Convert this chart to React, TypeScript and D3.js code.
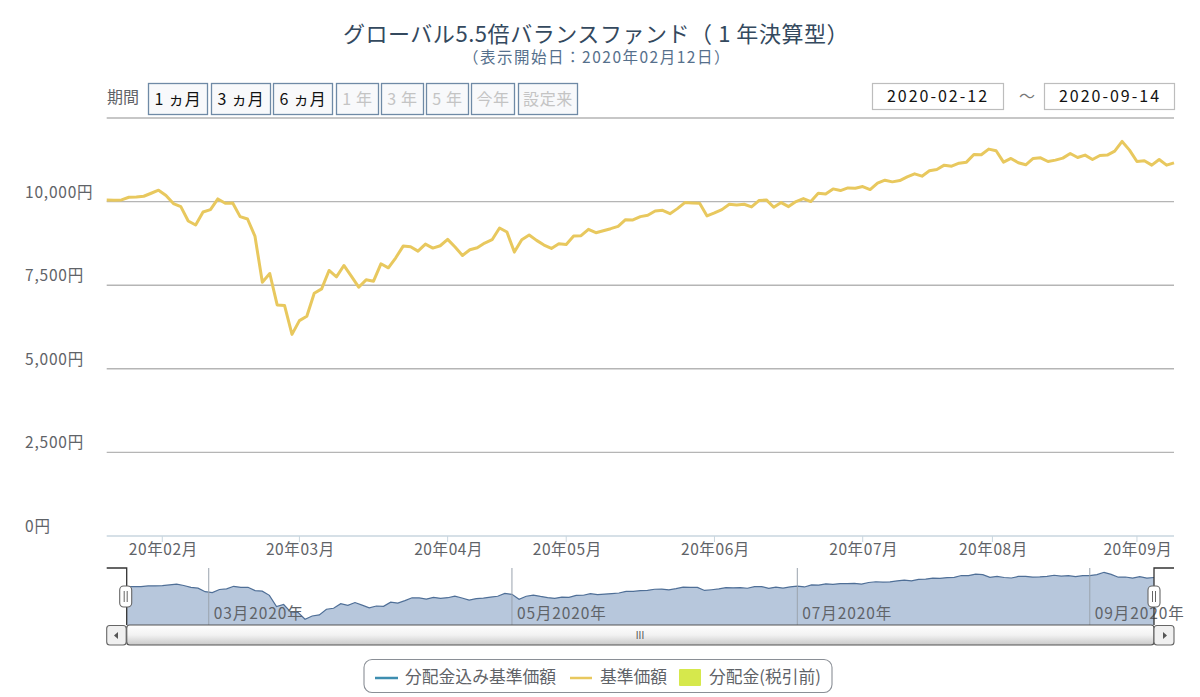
import React from "react";
import * as d3 from "d3";

const FONT = '"Noto Sans CJK JP", "Noto Sans", sans-serif';

const navValues: number[] = [
  10050, 10040, 10050, 10130, 10140, 10160, 10250, 10340, 10180, 9940, 9850, 9420, 9300, 9690, 9760, 10080, 9950, 9960,
  9550, 9480, 8970, 7590, 7850, 6910, 6890, 6030, 6440, 6570, 7260, 7390, 7940, 7750, 8090, 7770, 7440, 7660,
  7620, 8140, 8020, 8320, 8670, 8650, 8520, 8730, 8610, 8680, 8870, 8640, 8390, 8560, 8620, 8760, 8860, 9210, 9090, 8490,
  8860, 9000, 8840, 8700, 8600, 8740, 8720, 8970, 8980, 9170, 9070, 9130, 9190, 9260, 9460, 9450, 9550, 9590, 9720, 9740,
  9640, 9790, 9970, 9960, 9950, 9570, 9660, 9760, 9920, 9900, 9920, 9840, 10030, 10050, 9830, 9970, 9850, 10000, 10090,
  10000, 10250, 10230, 10380, 10330, 10410, 10400, 10450, 10360, 10550, 10640, 10590, 10630, 10740, 10830, 10760, 10920,
  10960, 11090, 11060, 11150, 11180, 11410, 11400, 11570, 11520, 11180, 11290, 11160, 11100, 11290, 11310, 11200, 11240,
  11300, 11440, 11320, 11390, 11260, 11380, 11390, 11510, 11800, 11540, 11200, 11220, 11090, 11260, 11090, 11160,
];
const yTicks: number[] = [0, 2500, 5000, 7500, 10000, 12500];
const yTickLabels: string[] = ["0円", "2,500円", "5,000円", "7,500円", "10,000円"];
const xTickIndex: number[] = [7.5, 26, 46, 62, 82, 102, 119.5, 139];
const xTickLabels: string[] = ["20年02月", "20年03月", "20年04月", "20年05月", "20年06月", "20年07月", "20年08月", "20年09月"];
const navTickIndex: number[] = [11.5, 54, 94, 135];
const navTickLabels: string[] = ["03月2020年", "05月2020年", "07月2020年", "09月2020年"];
const periodButtons: string[] = ["1 ヵ月", "3 ヵ月", "6 ヵ月", "1 年", "3 年", "5 年", "今年", "設定来"];
const periodEnabled: boolean[] = [true, true, true, false, false, false, false, false];
const periodEdges: number[][] = [[148, 208], [211, 271], [273, 333], [336, 379], [381, 424], [426, 469], [471, 515], [518, 578]];

const L = 106.7, R = 1174, TOP = 118, BOT = 536;
const NL = 126.7, NR = 1154, NT = 568, NB = 625;

export default function App() {
  const idx = navValues.map((_, i) => i);
  const x = d3.scaleLinear().domain([0, navValues.length - 1]).range([L, R]);
  const y = d3.scaleLinear().domain([0, 12500]).range([BOT, TOP]);
  const nx = d3.scaleLinear().domain([0, navValues.length - 1]).range([NL, NR]);
  const ny = d3.scaleLinear().domain([5330, 11800]).range([NB, 572.3]);
  const line = d3.line<number>().x((i) => x(i)).y((i) => y(navValues[i]));
  const navLine = d3.line<number>().x((i) => nx(i)).y((i) => ny(navValues[i]));
  const navArea = d3.area<number>().x((i) => nx(i)).y0(NB).y1((i) => ny(navValues[i]));
  const gray = "#5f6368";

  return (
    <svg width={1200} height={697} style={{ position: "absolute", left: 0, top: 0, background: "#fff" }} fontFamily={FONT}>
      <defs>
        <linearGradient id="thumb" x1="0" y1="0" x2="0" y2="1">
          <stop offset="0" stopColor="#ffffff" />
          <stop offset="0.5" stopColor="#f2f2f2" />
          <stop offset="1" stopColor="#c9c9c9" />
        </linearGradient>
      </defs>

      <text x={596} y={42} textAnchor="middle" fontSize={22} letterSpacing={0.55} fill="#34495e" xmlSpace="preserve">グローバル5.5倍バランスファンド（ 1 年決算型）</text>
      <text x={597} y={63} textAnchor="middle" fontSize={15.5} letterSpacing={1.5} fill="#56708c">（表示開始日：2020年02月12日）</text>

      <text x={107} y={103} fontSize={16} fill={gray}>期間</text>
      {periodButtons.map((b, i) => {
        const [a, e] = periodEdges[i];
        return (
          <g key={b}>
            <rect x={a + 0.5} y={83.5} width={e - a - 1} height={31} fill="#f8f9fb" stroke="#6f8aa6" strokeWidth={1.3} />
            <text x={(a + e) / 2} y={105} textAnchor="middle" fontSize={16} letterSpacing={0.6} fill={periodEnabled[i] ? "#111" : "#c4c4c4"} xmlSpace="preserve">{b}</text>
          </g>
        );
      })}

      <rect x={872.5} y={83.5} width={131} height={26} fill="#fff" stroke="#bdbdbd" strokeWidth={1.2} />
      <text x={938} y={102} textAnchor="middle" fontSize={16} letterSpacing={2} fill="#111">2020-02-12</text>
      <text x={1027} y={102} textAnchor="middle" fontSize={16} fill="#777">～</text>
      <rect x={1044.5} y={83.5} width={130} height={26} fill="#fff" stroke="#bdbdbd" strokeWidth={1.2} />
      <text x={1110} y={102} textAnchor="middle" fontSize={16} letterSpacing={2} fill="#111">2020-09-14</text>

      {yTicks.slice(1).map((t) => (
        <line key={t} x1={L} x2={R} y1={y(t)} y2={y(t)} stroke="#b5b5b5" strokeWidth={1.4} />
      ))}
      <line x1={L} x2={R} y1={BOT} y2={BOT} stroke="#c9d6df" strokeWidth={1.4} />
      {yTickLabels.map((t, i) => (
        <text key={t} x={25} y={y(yTicks[i]) - 4} fontSize={15.5} letterSpacing={0.8} fill={gray}>{t}</text>
      ))}
      {xTickIndex.map((t, i) => (
        <g key={t}>
          <line x1={x(t)} x2={x(t)} y1={BOT} y2={BOT + 6} stroke="#c9d6df" />
          <text x={x(t) + 1} y={555} textAnchor="middle" fontSize={15.5} letterSpacing={0.6} fill={gray}>{xTickLabels[i]}</text>
        </g>
      ))}

      <path d={line(idx) ?? ""} fill="none" stroke="#e8c85e" strokeWidth={3} strokeLinejoin="round" />

      <path d={navArea(idx) ?? ""} fill="#b7c7dc" />
      <path d={navLine(idx) ?? ""} fill="none" stroke="#4f6f97" strokeWidth={1.2} />
      {navTickIndex.map((t, i) => (
        <g key={t}>
          <line x1={nx(t)} x2={nx(t)} y1={NT} y2={NB} stroke="#9aa3ad" strokeWidth={1} />
          <text x={nx(t) + 5} y={619} fontSize={15.5} letterSpacing={0.9} fill={gray}>{navTickLabels[i]}</text>
        </g>
      ))}

      <path d={`M${L},${NT}H${NL}V${NB}`} fill="none" stroke="#333" strokeWidth={1.3} />
      <path d={`M${R},${NT}H${NR}V${NB}`} fill="none" stroke="#333" strokeWidth={1.3} />

      <rect x={NL} y={625} width={NR - NL} height={20} rx={3} fill="url(#thumb)" stroke="#555" strokeWidth={1.2} />
      <rect x={L} y={625.5} width={19.5} height={19.5} rx={3} fill="#f0f0f0" stroke="#666" strokeWidth={1.1} />
      <rect x={NR} y={625.5} width={20} height={19.5} rx={3} fill="#f0f0f0" stroke="#666" strokeWidth={1.1} />
      <path d="M118,632 L114,635.5 L118,639 Z" fill="#555" />
      <path d="M1163,632 L1167,635.5 L1163,639 Z" fill="#555" />
      <text x={640} y={639} textAnchor="middle" fontSize={10} fill="#555" fontFamily="'Liberation Sans', sans-serif">III</text>

      {[NL - 1, NR].map((hx) => (
        <g key={hx}>
          <rect x={hx - 6} y={586} width={12} height={21} rx={4} fill="#fff" stroke="#666" strokeWidth={1.1} />
          <line x1={hx - 1.5} x2={hx - 1.5} y1={591} y2={602} stroke="#666" />
          <line x1={hx + 1.5} x2={hx + 1.5} y1={591} y2={602} stroke="#666" />
        </g>
      ))}

      <rect x={364} y={659.5} width={468} height={33} rx={8} fill="#fff" stroke="#8a8f96" strokeWidth={1.1} />
      <line x1={375} x2={398} y1={678} y2={678} stroke="#3e8eb0" strokeWidth={2.5} />
      <text x={405} y={683} fontSize={16.8} fill={gray}>分配金込み基準価額</text>
      <line x1={570} x2={592} y1={678} y2={678} stroke="#e8c85e" strokeWidth={2.5} />
      <text x={600} y={683} fontSize={16.8} fill={gray}>基準価額</text>
      <rect x={679} y={669} width={22} height={17} rx={1} fill="#d6e84c" />
      <text x={709} y={683} fontSize={16.8} fill={gray}>分配金(税引前)</text>
    </svg>
  );
}
